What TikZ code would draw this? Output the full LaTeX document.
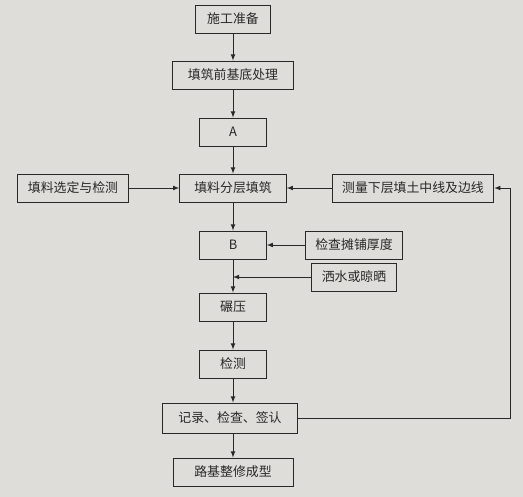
\documentclass[tikz,border=0pt]{standalone}
\usepackage{fontspec}
\newfontfamily\cjk{Noto Sans CJK SC}
\usetikzlibrary{arrows}
\definecolor{paper}{RGB}{222,221,218}
\definecolor{ink}{RGB}{40,40,40}

\begin{document}
\begin{tikzpicture}[x=0.03cm, y=-0.03cm,
        stepbox/.style={draw=ink, thick, rectangle, minimum height=0.84cm, minimum width=2cm,
            inner xsep=8.5pt, text=ink, font=\cjk\fontsize{11}{13}\selectfont},
        flow/.style={draw=ink, thick, -latex}]
            \fill[paper] (0,0) rectangle (523,497);
            \useasboundingbox (0,0) rectangle (523,497);

            % First, locate each of the nodes and name them
            \node[stepbox, minimum width=2.25cm] (prep) at (233,19) {施工准备};
            \node[stepbox, minimum width=3.65cm] (base) at (233,75) {填筑前基底处理};
            \node[stepbox] (stepA) at (233,132) {A};
            \node[stepbox, minimum width=3.2cm] (layer) at (233,188) {填料分层填筑};
            \node[stepbox] (select) at (73,188) {填料选定与检测};
            \node[stepbox] (survey) at (413,188) {测量下层填土中线及边线};
            \node[stepbox] (stepB) at (233,245) {B};
            \node[stepbox] (thick) at (354,245) {检查摊铺厚度};
            \node[stepbox] (wet) at (354,277) {洒水或晾晒};
            \node[stepbox] (roll) at (233,307) {碾压};
            \node[stepbox] (check) at (233,364) {检测};
            \node[stepbox, minimum height=0.9cm, minimum width=4.05cm] (record) at (230,418) {记录、检查、签认};
            \node[stepbox, minimum width=3.6cm] (finish) at (233,472) {路基整修成型};
            \coordinate (loop) at (510,0);

            % Main column
            \draw[flow] (prep) -- (base);
            \draw[flow] (base) -- (stepA);
            \draw[flow] (stepA) -- (layer);
            \draw[flow] (layer) -- (stepB);
            \draw[flow] (stepB) -- (roll);
            \draw[flow] (roll) -- (check);
            \draw[flow] (check) -- (check |- record.north);
            \draw[flow] (finish |- record.south) -- (finish);

            % Side inputs
            \draw[flow] (select) -- (layer);
            \draw[flow] (survey) -- (layer);
            \draw[flow] (thick) -- (stepB);
            \draw[flow] (wet.west) -- (wet.west -| stepB.south);

            % Back to the next layer
            \draw[flow] (record.east) -- (record.east -| loop) |- (survey.east);
        \end{tikzpicture}
\end{document}
